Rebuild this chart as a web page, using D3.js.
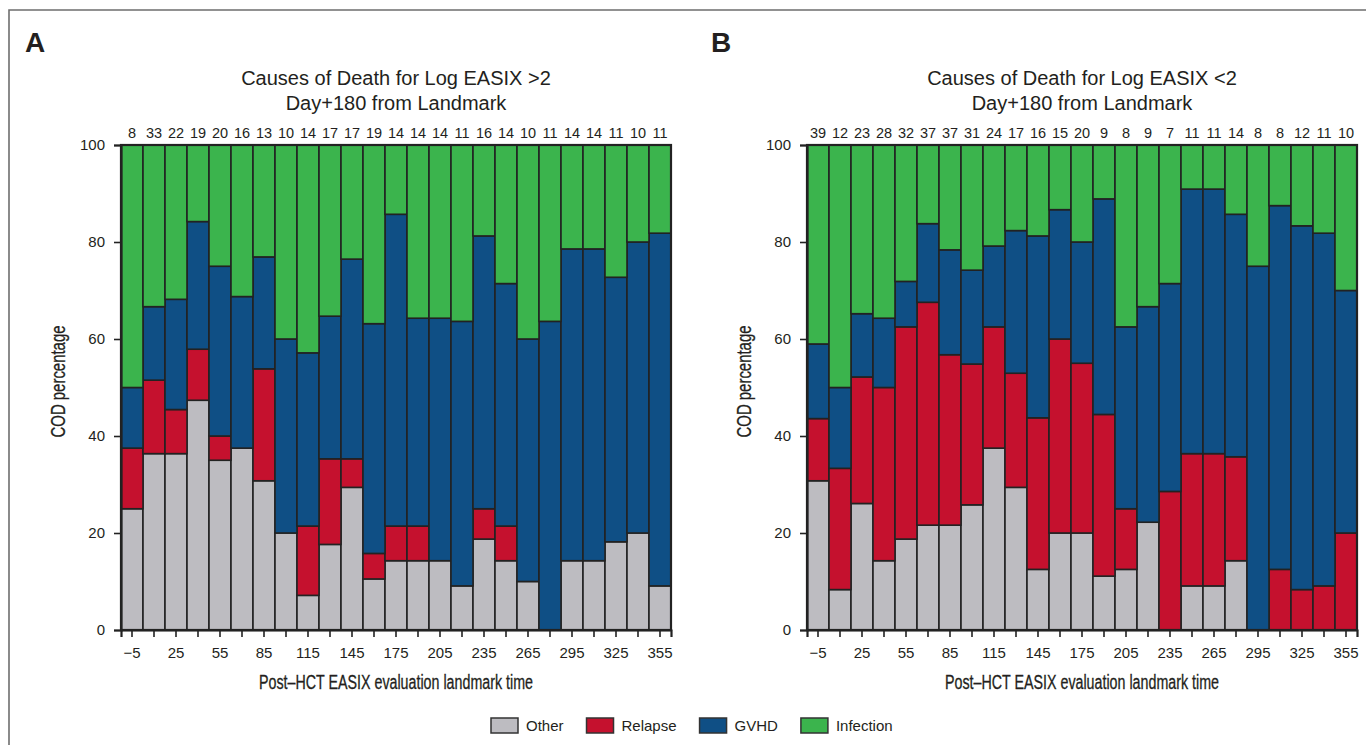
<!DOCTYPE html>
<html>
<head>
<meta charset="utf-8">
<script src="https://cdn.jsdelivr.net/npm/d3@7"></script>
<style>
  html, body { margin: 0; padding: 0; background: #fff; }
  svg { display: block; }
  .tick text { font-family: "Liberation Sans", Arial, sans-serif; }
</style>
</head>
<body>
<svg id="chart" width="1366" height="745"></svg>
<script>
// ---------------- DATA ----------------
const landmarks = [-5, 10, 25, 40, 55, 70, 85, 100, 115, 130, 145, 160, 175, 190, 205, 220, 235, 250, 265, 280, 295, 310, 325, 340, 355];
const causes = ["Other", "Relapse", "GVHD", "Infection"];
const yTicks = [0, 20, 40, 60, 80, 100];

// Panel A: Log EASIX > 2 (number of deaths per cause at each landmark)
const totalsA    = [8, 33, 22, 19, 20, 16, 13, 10, 14, 17, 17, 19, 14, 14, 14, 11, 16, 14, 10, 11, 14, 14, 11, 10, 11];
const otherA     = [2, 12, 8, 9, 7, 6, 4, 2, 1, 3, 5, 2, 2, 2, 2, 1, 3, 2, 1, 0, 2, 2, 2, 2, 1];
const relapseA   = [1, 5, 2, 2, 1, 0, 3, 0, 2, 3, 1, 1, 1, 1, 0, 0, 1, 1, 0, 0, 0, 0, 0, 0, 0];
const gvhdA      = [1, 5, 5, 5, 7, 5, 3, 4, 5, 5, 7, 9, 9, 6, 7, 6, 9, 7, 5, 7, 9, 9, 6, 6, 8];
const infectionA = [4, 11, 7, 3, 5, 5, 3, 4, 6, 6, 4, 7, 2, 5, 5, 4, 3, 4, 4, 4, 3, 3, 3, 2, 2];

// Panel B: Log EASIX < 2
const totalsB    = [39, 12, 23, 28, 32, 37, 37, 31, 24, 17, 16, 15, 20, 9, 8, 9, 7, 11, 11, 14, 8, 8, 12, 11, 10];
const otherB     = [12, 1, 6, 4, 6, 8, 8, 8, 9, 5, 2, 3, 4, 1, 1, 2, 0, 1, 1, 2, 0, 0, 0, 0, 0];
const relapseB   = [5, 3, 6, 10, 14, 17, 13, 9, 6, 4, 5, 6, 7, 3, 1, 0, 2, 3, 3, 3, 0, 1, 1, 1, 2];
const gvhdB      = [6, 2, 3, 4, 3, 6, 8, 6, 4, 5, 6, 4, 5, 4, 3, 4, 3, 6, 6, 7, 6, 6, 9, 8, 5];
const infectionB = [16, 6, 8, 10, 9, 6, 8, 8, 5, 3, 3, 2, 4, 1, 3, 3, 2, 1, 1, 2, 2, 1, 2, 2, 3];

// ---------------- STYLE ----------------
const colors = { Other: "#bdbcc1", Relapse: "#c5112e", GVHD: "#0f4f85", Infection: "#3bb44d" };
const strokeCol = "#222";
const fontMain = "'Liberation Sans', Arial, Helvetica, sans-serif";

const svg = d3.select("#chart");

// outer frame (left + top visible)
svg.append("path")
  .attr("d", "M9,760 L9,10 L1380,10")
  .attr("fill", "none").attr("stroke", "#6e6e6e").attr("stroke-width", 1.6);

function buildRows(other, relapse, gvhd, infection, totals) {
  return landmarks.map((t, i) => {
    const n = other[i] + relapse[i] + gvhd[i] + infection[i];
    return {
      t, n: totals[i],
      Other: 100 * other[i] / n,
      Relapse: 100 * relapse[i] / n,
      GVHD: 100 * gvhd[i] / n,
      Infection: 100 * infection[i] / n
    };
  });
}

const panels = [
  { letter: "A", title1: "Causes of Death for Log EASIX >2", left: 121, right: 671,
    rows: buildRows(otherA, relapseA, gvhdA, infectionA, totalsA) },
  { letter: "B", title1: "Causes of Death for Log EASIX <2", left: 807, right: 1357,
    rows: buildRows(otherB, relapseB, gvhdB, infectionB, totalsB) }
];

const plotTop = 145, plotBottom = 630;
const y = d3.scaleLinear().domain([0, 100]).range([plotBottom, plotTop]);
const stack = d3.stack().keys(causes);

panels.forEach(p => {
  const g = svg.append("g");
  const x = d3.scaleBand().domain(landmarks).range([p.left, p.right]).padding(0);

  // letter
  g.append("text").attr("x", p.left - 96).attr("y", 52)
    .attr("font-family", fontMain).attr("font-weight", "bold").attr("font-size", 28)
    .attr("fill", "#231f20").text(p.letter);

  const cx = (p.left + p.right) / 2;
  g.append("text").attr("x", cx).attr("y", 85).attr("text-anchor", "middle")
    .attr("font-family", fontMain).attr("font-size", 20).attr("fill", "#231f20").text(p.title1);
  g.append("text").attr("x", cx).attr("y", 110).attr("text-anchor", "middle")
    .attr("font-family", fontMain).attr("font-size", 20).attr("fill", "#231f20").text("Day+180 from Landmark");

  // counts on top
  g.selectAll("text.count").data(p.rows).join("text")
    .attr("class", "count")
    .attr("x", d => x(d.t) + x.bandwidth() / 2).attr("y", 138)
    .attr("text-anchor", "middle").attr("font-family", fontMain).attr("font-size", 14.5)
    .attr("fill", "#231f20").text(d => d.n);

  // stacked bars
  const series = stack(p.rows);
  g.selectAll("g.series").data(series).join("g")
    .attr("class", "series")
    .attr("fill", s => colors[s.key])
    .selectAll("rect").data(s => s.filter(d => d[1] - d[0] > 0.001)).join("rect")
      .attr("x", d => x(d.data.t))
      .attr("width", x.bandwidth())
      .attr("y", d => y(d[1]))
      .attr("height", d => y(d[0]) - y(d[1]))
      .attr("stroke", strokeCol).attr("stroke-width", 1.6);

  // outline of plot area
  g.append("rect").attr("x", p.left).attr("y", plotTop)
    .attr("width", p.right - p.left).attr("height", plotBottom - plotTop)
    .attr("fill", "none").attr("stroke", strokeCol).attr("stroke-width", 2.2);

  // y axis
  const yAxis = g.append("g").attr("transform", `translate(${p.left},0)`)
    .call(d3.axisLeft(y).tickValues(yTicks).tickSize(7).tickPadding(9));
  yAxis.select(".domain").attr("stroke", strokeCol).attr("stroke-width", 2.2);
  yAxis.selectAll(".tick line").attr("stroke", strokeCol).attr("stroke-width", 1.6);
  yAxis.selectAll(".tick text").attr("font-size", 15).attr("fill", "#231f20");

  // x axis
  const xAxis = g.append("g").attr("transform", `translate(0,${plotBottom})`)
    .call(d3.axisBottom(x).tickSize(7).tickPadding(10)
      .tickFormat((d, i) => (i % 2 === 0 ? (d < 0 ? "\u2212" + Math.abs(d) : d) : "")));
  xAxis.select(".domain").attr("stroke", strokeCol).attr("stroke-width", 2.2);
  xAxis.selectAll(".tick line").attr("stroke", strokeCol).attr("stroke-width", 1.6);
  xAxis.selectAll(".tick text").attr("font-size", 15).attr("fill", "#231f20");

  // axis titles (condensed look via textLength)
  g.append("text")
    .attr("transform", `translate(${p.left - 56},${(plotTop + plotBottom) / 2 - 6}) rotate(-90)`)
    .attr("text-anchor", "middle").attr("font-family", fontMain).attr("font-size", 20)
    .attr("textLength", 112).attr("lengthAdjust", "spacingAndGlyphs")
    .attr("stroke", "#231f20").attr("stroke-width", 0.3)
    .attr("fill", "#231f20").text("COD percentage");
  g.append("text").attr("x", cx).attr("y", 689).attr("text-anchor", "middle")
    .attr("font-family", fontMain).attr("font-size", 20)
    .attr("textLength", 274).attr("lengthAdjust", "spacingAndGlyphs")
    .attr("stroke", "#231f20").attr("stroke-width", 0.3)
    .attr("fill", "#231f20")
    .text("Post\u2013HCT EASIX evaluation landmark time");
});

// legend
const legend = svg.append("g");
let lx = 491;
causes.forEach(c => {
  legend.append("rect").attr("x", lx).attr("y", 718).attr("width", 27).attr("height", 15)
    .attr("fill", colors[c]).attr("stroke", "#333").attr("stroke-width", 1.5);
  const t = legend.append("text").attr("x", lx + 35).attr("y", 731)
    .attr("font-family", fontMain).attr("font-size", 15).attr("fill", "#231f20").text(c);
  lx += 35 + t.node().getComputedTextLength() + 23;
});
</script>
</body>
</html>
